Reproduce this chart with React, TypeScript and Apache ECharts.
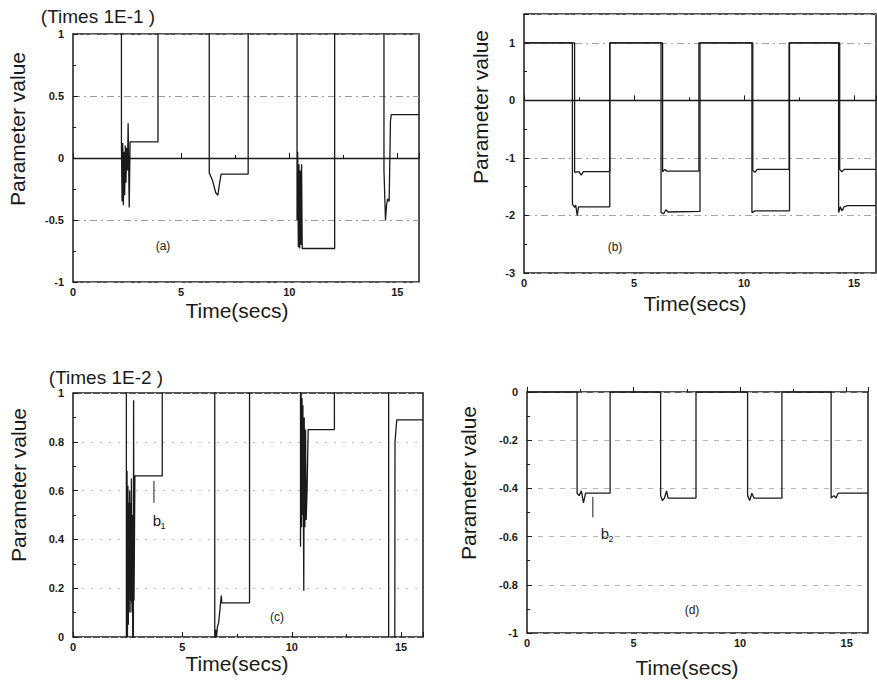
import React, { useEffect, useRef } from "react";
import * as echarts from "echarts";

// ---------- DATA (time in secs, values in displayed axis units) ----------
// Panel (a): scaled "Times 1E-1"; values above 1 are off the chart (clipped)
const panelA: number[][] = [
  [0, 3], [2.24, 3], [2.24, 0.1], [2.27, -0.35], [2.3, 0.12], [2.33, -0.38], [2.36, 0.05],
  [2.39, -0.3], [2.42, 0.1], [2.45, -0.2], [2.48, 0.08], [2.52, -0.1], [2.55, 0.28],
  [2.6, -0.4], [2.64, 0.13], [3.93, 0.13], [3.93, 3], [6.3, 3], [6.3, -0.12], [6.45, -0.18],
  [6.6, -0.28], [6.7, -0.3], [6.78, -0.2], [6.85, -0.13], [8.1, -0.13], [8.1, 3],
  [10.36, 3], [10.36, -0.5], [10.39, 0.05], [10.42, -0.72], [10.45, -0.05], [10.48, -0.73],
  [10.51, -0.1], [10.54, -0.7], [10.57, -0.05], [10.6, -0.73], [12.1, -0.73], [12.1, 3],
  [14.38, 3], [14.38, -0.1], [14.45, -0.5], [14.5, -0.38], [14.55, -0.33], [14.62, -0.35],
  [14.68, 0.3], [14.72, 0.35], [16, 0.35],
];
// Panel (b): two traces
const panelBLower: number[][] = [
  [0, 1], [2.2, 1], [2.2, -1.8], [2.3, -1.86], [2.35, -1.82], [2.42, -2.0], [2.48, -1.85],
  [3.9, -1.85], [3.9, 1], [6.23, 1], [6.23, -1.95], [6.35, -1.97], [6.45, -1.9], [6.55, -1.94],
  [8.0, -1.93], [8.0, 1], [10.36, 1], [10.36, -1.95], [10.5, -1.92], [12.07, -1.92], [12.07, 1],
  [14.3, 1], [14.3, -1.95], [14.38, -1.85], [14.45, -1.92], [14.55, -1.85], [14.7, -1.83],
  [16, -1.83],
];
const panelBUpper: number[][] = [
  [0, 1], [2.3, 1], [2.3, -1.25], [2.5, -1.24], [2.6, -1.3], [2.7, -1.24], [3.9, -1.24],
  [3.9, 1], [6.3, 1], [6.3, -1.24], [6.4, -1.2], [6.5, -1.23], [7.95, -1.23], [7.95, 1],
  [10.4, 1], [10.4, -1.22], [10.5, -1.25], [10.6, -1.2], [12.05, -1.2], [12.05, 1],
  [14.35, 1], [14.35, -1.2], [14.45, -1.24], [14.55, -1.2], [16, -1.2],
];
// Panel (c): scaled "Times 1E-2"
const panelC: number[][] = [
  [0, 3], [2.44, 3], [2.44, -1], [2.47, 0.68], [2.49, 0.0], [2.51, 0.62], [2.53, 0.05],
  [2.55, 0.55], [2.57, 0.1], [2.59, 0.6], [2.61, 0.15], [2.63, 0.55], [2.65, 0.1],
  [2.67, 0.65], [2.7, 0.14], [2.72, 0.5], [2.75, -1], [2.77, 0.97], [2.79, 0.15],
  [2.83, 0.66], [4.08, 0.66], [4.08, 3], [6.48, 3], [6.48, -0.02], [6.52, 0.03], [6.56, 0.0],
  [6.6, 0.04], [6.66, 0.06], [6.78, 0.17], [6.8, 0.14], [8.07, 0.14], [8.07, 3],
  [10.4, 3], [10.4, 0.37], [10.43, 1.0], [10.45, 0.45], [10.47, 0.98], [10.49, 0.5],
  [10.51, 0.95], [10.53, 0.55], [10.55, 0.19], [10.57, 0.9], [10.6, 0.45], [10.63, 0.85],
  [10.66, 0.48], [10.7, 0.6], [10.75, 0.85], [11.95, 0.85], [11.95, 3], [14.43, 3],
  [14.43, -1], [14.7, -1], [14.72, 0.8], [14.8, 0.89], [16, 0.89],
];
const pointerB1: number[][] = [[3.7, 0.64], [3.7, 0.55]];
// Panel (d)
const panelD: number[][] = [
  [0, 0], [2.35, 0], [2.35, -0.42], [2.45, -0.43], [2.55, -0.41], [2.65, -0.46], [2.75, -0.42],
  [3.9, -0.42], [3.9, 0], [6.27, 0], [6.27, -0.43], [6.35, -0.45], [6.45, -0.44], [6.55, -0.41],
  [6.62, -0.44], [7.93, -0.44], [7.93, 0], [10.35, 0], [10.35, -0.43], [10.45, -0.45],
  [10.55, -0.42], [10.65, -0.44], [11.96, -0.44], [11.96, 0], [14.27, 0], [14.27, -0.44],
  [14.4, -0.43], [14.5, -0.44], [14.6, -0.42], [16, -0.42],
];
const pointerB2: number[][] = [[3.09, -0.435], [3.09, -0.52]];

const xTicks = { min: 0, max: 16, interval: 5 };
const yRanges = [
  { min: -1, max: 1, interval: 0.5 },
  { min: -3, max: 1.5, interval: 1 },
  { min: 0, max: 1, interval: 0.2 },
  { min: -1, max: 0, interval: 0.2 },
];
const titles = ["(Times 1E-1 )", "(Times 1E-2 )"];
const yName = "Parameter value";
const xName = "Time(secs)";
const panelLabels = ["(a)", "(b)", "(c)", "(d)"];

const FONT = "'Liberation Sans', Arial, Helvetica, sans-serif";
const INK = "#1a1a1a";

export default function App() {
  const ref = useRef<HTMLDivElement>(null);
  useEffect(() => {
    if (!ref.current) return;
    const chart = echarts.init(ref.current, undefined, { renderer: "svg" });

    const grids = [
      { left: 73, top: 34, width: 346, height: 248 },
      { left: 524, top: 14, width: 352, height: 259 },
      { left: 73, top: 393, width: 350, height: 244 },
      { left: 527, top: 392, width: 341, height: 241 },
    ].map((g) => ({ ...g, show: true, borderColor: INK, borderWidth: 1.5, backgroundColor: "transparent" }));

    const splitStyles = [
      { color: "#9a9a9a", type: [7, 4, 2, 4] },
      { color: "#a5a5a5", type: [7, 4, 2, 4] },
      { color: "#c4c4c4", type: [2, 7] },
      { color: "#b5b5b5", type: [5, 6] },
    ];

    const xAxis = grids.map((_, i) => ({
      type: "value",
      gridIndex: i,
      ...xTicks,
      axisLine: { show: false },
      axisTick: { show: true, inside: true, length: 5, lineStyle: { color: INK } },
      minorTick: { show: true, splitNumber: 2, length: 3, lineStyle: { color: INK } },
      axisLabel: { fontSize: 11, fontWeight: "bold", color: INK, margin: 4, fontFamily: FONT, showMaxLabel: false },
      splitLine: { show: false },
    }));
    const yAxis = grids.map((_, i) => ({
      type: "value",
      gridIndex: i,
      ...yRanges[i],
      axisLine: { show: false },
      axisTick: { show: true, inside: true, length: 5, lineStyle: { color: INK } },
      minorTick: { show: true, splitNumber: 2, length: 3, lineStyle: { color: INK } },
      axisLabel: { fontSize: 11, fontWeight: "bold", color: INK, margin: 9, fontFamily: FONT, showMaxLabel: i === 1 ? false : true },
      splitLine: { show: true, lineStyle: { width: 1, ...splitStyles[i] } },
    }));

    const lineStyle = { color: INK, width: 1.3 };
    const base = { type: "line", symbol: "none", silent: true, clip: true, lineStyle };
    const zeroMark = {
      symbol: "none",
      silent: true,
      label: { show: false },
      lineStyle: { color: INK, type: "solid", width: 1.4 },
      data: [{ yAxis: 0 }],
    };
    const series = [
      { ...base, name: "a", xAxisIndex: 0, yAxisIndex: 0, data: panelA, markLine: zeroMark },
      { ...base, name: "b lower", xAxisIndex: 1, yAxisIndex: 1, data: panelBLower, markLine: zeroMark },
      { ...base, name: "b upper", xAxisIndex: 1, yAxisIndex: 1, data: panelBUpper },
      { ...base, name: "c", xAxisIndex: 2, yAxisIndex: 2, data: panelC },
      { ...base, name: "b1 pointer", xAxisIndex: 2, yAxisIndex: 2, data: pointerB1, lineStyle: { color: INK, width: 1 } },
      { ...base, name: "d", xAxisIndex: 3, yAxisIndex: 3, data: panelD },
      { ...base, name: "b2 pointer", xAxisIndex: 3, yAxisIndex: 3, data: pointerB2, lineStyle: { color: INK, width: 1 } },
    ];

    const txt = (text: string, x: number, y: number, size: number, extra: any = {}) => ({
      type: "text",
      x,
      y,
      silent: true,
      ...extra,
      style: {
        text,
        fontSize: size,
        fontFamily: FONT,
        fill: INK,
        align: "center",
        verticalAlign: "middle",
        textAlign: "center",
        textVerticalAlign: "middle",
      },
    });
    const rot = { rotation: Math.PI / 2 };

    const graphic = [
      txt(titles[0], 98, 16, 19),
      txt(titles[1], 106, 377, 19),
      txt(yName, 17, 129, 21, rot),
      txt(yName, 480, 107, 21, rot),
      txt(yName, 18, 485, 21, rot),
      txt(yName, 468, 483, 21, rot),
      txt(xName, 237, 310, 21),
      txt(xName, 695, 303, 21),
      txt(xName, 237, 663, 21),
      txt(xName, 687, 667, 21),
      txt(panelLabels[0], 163, 246, 12),
      txt(panelLabels[1], 615, 247, 12),
      txt(panelLabels[2], 277, 617, 12),
      txt(panelLabels[3], 692, 610, 12),
      txt("b", 157, 520, 15),
      txt("1", 163, 526, 9),
      txt("b", 605, 533, 15),
      txt("2", 611, 539, 9),
    ];

    chart.setOption({
      animation: false,
      backgroundColor: "#ffffff",
      textStyle: { fontFamily: FONT },
      grid: grids,
      xAxis,
      yAxis,
      series,
      graphic,
    });
    return () => chart.dispose();
  }, []);

  return (
    <div
      ref={ref}
      style={{ position: "fixed", left: 0, top: 0, width: 877, height: 680, background: "#fff" }}
    />
  );
}
